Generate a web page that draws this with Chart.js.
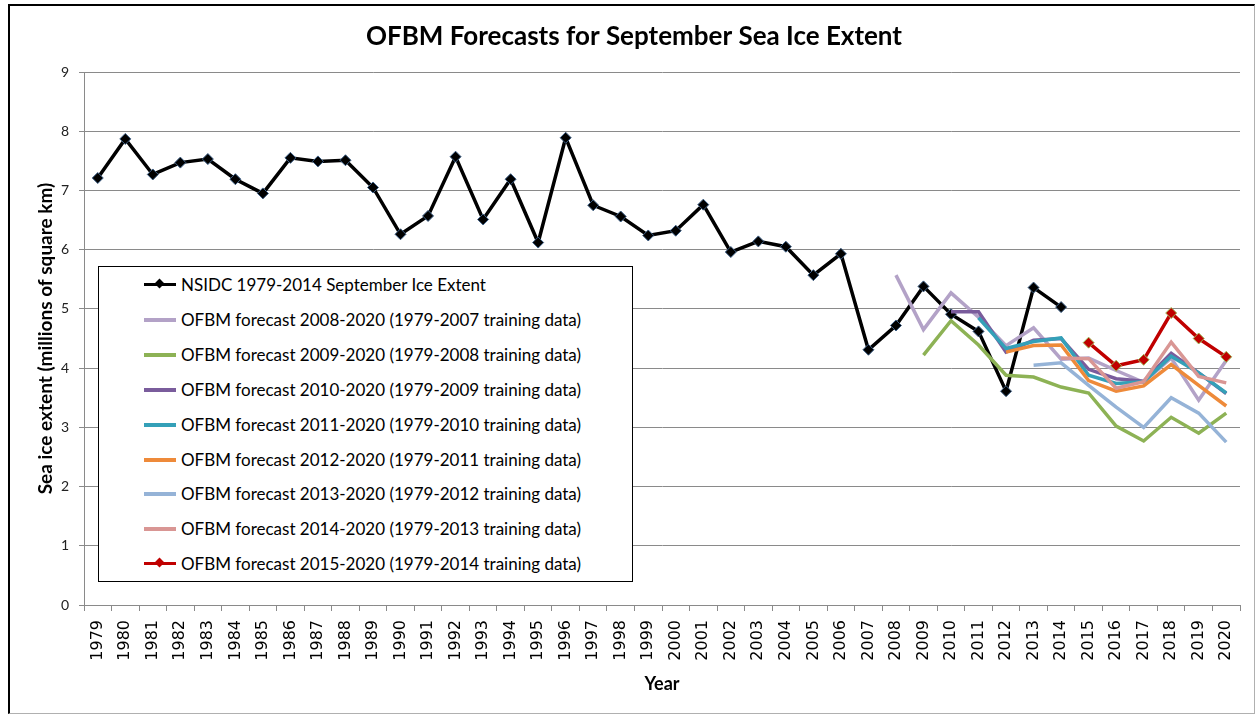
<!DOCTYPE html>
<html>
<head>
<meta charset="utf-8">
<script src="https://cdn.jsdelivr.net/npm/chart.js@4"></script>
<style>
  body { margin: 0; background: #fff; }
  #wrap { position: relative; width: 1257px; height: 717px; }
  #frame { position: absolute; left: 8px; top: 4px; width: 1244px; height: 707px;
           border-left: 2px solid #000; border-top: 2px solid #000;
           border-right: 1px solid #b0b0b0; border-bottom: 1px solid #b0b0b0; pointer-events: none; }
  #legend { position: absolute; left: 98px; top: 266px; width: 533px; height: 314px;
            border: 1px solid #000; background: #fff; font-family: Lato, sans-serif; font-size: 17px; color: #000; }
  .row { position: absolute; left: 0; height: 35px; width: 100%; }
  .swatch { position: absolute; left: 45px; top: 16px; width: 32px; height: 4px; }
  .dia { position: absolute; left: 12px; top: -3px; width: 7px; height: 7px; transform: rotate(45deg); }
  .lbl { position: absolute; left: 82px; top: 0; line-height: 35px; white-space: nowrap; }
</style>
</head>
<body>
<div id="wrap">
  <canvas id="chart" width="1257" height="717"></canvas>
  <div id="legend"></div>
  <div id="frame"></div>
</div>
<script>
// ===== DADOS =====
const years = ['1979','1980','1981','1982','1983','1984','1985','1986','1987','1988','1989','1990','1991','1992',
  '1993','1994','1995','1996','1997','1998','1999','2000','2001','2002','2003','2004','2005','2006','2007','2008',
  '2009','2010','2011','2012','2013','2014','2015','2016','2017','2018','2019','2020'];

// observado 1979-2014
const nsidc = [7.21, 7.87, 7.27, 7.47, 7.53, 7.19, 6.95, 7.55, 7.49, 7.51, 7.05, 6.26, 6.57, 7.57, 6.51, 7.19,
  6.12, 7.89, 6.75, 6.56, 6.24, 6.32, 6.76, 5.96, 6.14, 6.05, 5.57, 5.93, 4.31, 4.72, 5.38, 4.91, 4.62, 3.61, 5.36, 5.03];

// previsões, cada uma começa no ano indicado
const fc2008 = [5.57, 4.65, 5.27, 4.86, 4.38, 4.68, 4.15, 4.17, 3.96, 3.76, 4.17, 3.46, 4.13];
const fc2009 = [4.22, 4.80, 4.39, 3.88, 3.85, 3.68, 3.58, 3.02, 2.77, 3.17, 2.90, 3.24];
const fc2010 = [4.95, 4.95, 4.27, 4.47, 4.50, 3.98, 3.82, 3.78, 4.25, 3.92, 3.57];
const fc2011 = [4.85, 4.33, 4.45, 4.51, 3.88, 3.74, 3.77, 4.20, 3.92, 3.58];
const fc2012 = [4.27, 4.38, 4.39, 3.79, 3.61, 3.70, 4.06, 3.71, 3.36];
const fc2013 = [4.05, 4.09, 3.71, 3.34, 3.00, 3.50, 3.24, 2.75];
const fc2014 = [4.17, 4.16, 3.66, 3.77, 4.44, 3.86, 3.75];
const fc2015 = [4.43, 4.04, 4.14, 4.93, 4.50, 4.19];

const yTicks = [0, 1, 2, 3, 4, 5, 6, 7, 8, 9];

// preenche com null até o ano de início
const pad = (startYear, vals) => {
  const out = years.map(() => null);
  const i0 = years.indexOf(startYear);
  vals.forEach((v, i) => { out[i0 + i] = v; });
  return out;
};

const series = [
  { label: 'NSIDC 1979-2014 September Ice Extent', data: pad('1979', nsidc), color: '#000000', marker: true, edge: '#3d5f86' },
  { label: 'OFBM forecast 2008-2020 (1979-2007 training data)', data: pad('2008', fc2008), color: '#b3a2c7' },
  { label: 'OFBM forecast 2009-2020 (1979-2008 training data)', data: pad('2009', fc2009), color: '#8db255' },
  { label: 'OFBM forecast 2010-2020 (1979-2009 training data)', data: pad('2010', fc2010), color: '#7a5c9c' },
  { label: 'OFBM forecast 2011-2020 (1979-2010 training data)', data: pad('2011', fc2011), color: '#34a0b8' },
  { label: 'OFBM forecast 2012-2020 (1979-2011 training data)', data: pad('2012', fc2012), color: '#ee8a3a' },
  { label: 'OFBM forecast 2013-2020 (1979-2012 training data)', data: pad('2013', fc2013), color: '#95b3d7' },
  { label: 'OFBM forecast 2014-2020 (1979-2013 training data)', data: pad('2014', fc2014), color: '#d99694' },
  { label: 'OFBM forecast 2015-2020 (1979-2014 training data)', data: pad('2015', fc2015), color: '#c00000', marker: true, edge: '#9bbb59' },
];

const GRID = '#8a8a8a';

// ===== GRÁFICO =====
const datasets = series.map((s, i) => ({
  label: s.label,
  data: s.data,
  borderColor: s.color,
  backgroundColor: s.color,
  borderWidth: 3.5,
  pointStyle: 'rectRot',
  pointRadius: s.marker ? 5.5 : 0,
  pointBackgroundColor: s.color,
  pointBorderColor: s.edge || s.color,
  pointBorderWidth: 1,
  tension: 0,
  spanGaps: false,
  order: series.length - i
}));

new Chart(document.getElementById('chart'), {
  type: 'line',
  data: { labels: years, datasets },
  options: {
    responsive: false,
    animation: false,
    layout: { padding: { left: 28, right: 17, top: 0, bottom: 0 } },
    plugins: {
      legend: { display: false },
      tooltip: { enabled: false },
      title: {
        display: true,
        text: 'OFBM Forecasts for September Sea Ice Extent',
        color: '#000',
        font: { family: 'Lato', size: 26, weight: 'bold' },
        padding: { top: 21, bottom: 19.8 }
      }
    },
    scales: {
      x: {
        type: 'category',
        offset: true,
        grid: { offset: true, drawOnChartArea: false, drawTicks: true, tickLength: 6, color: GRID },
        border: { display: true, color: GRID },
        ticks: {
          autoSkip: false, maxRotation: 90, minRotation: 90, padding: 9,
          color: '#000', font: { family: 'DejaVu Sans', size: 16 }
        },
        title: {
          display: true, text: 'Year', color: '#000',
          font: { family: 'Lato', size: 18, weight: 'bold' },
          padding: { top: 0, bottom: 22 }
        },
        afterFit: s => { s.height = 112; }
      },
      y: {
        min: 0, max: 9,
        afterBuildTicks: s => { s.ticks = yTicks.map(v => ({ value: v })); },
        grid: { color: GRID, tickLength: 5 },
        border: { display: true, color: GRID },
        ticks: { padding: 10, color: '#222', font: { family: 'Lato', size: 14 } },
        title: {
          display: true, text: 'Sea ice extent (millions of square km)', color: '#000',
          font: { family: 'Lato', size: 19, weight: 'bold' },
          padding: { top: 6, bottom: 0 }
        },
        afterFit: s => { s.width = 56; }
      }
    }
  }
});

// ===== LEGENDA (dentro da área do gráfico) =====
const legend = document.getElementById('legend');
series.forEach((s, i) => {
  const row = document.createElement('div');
  row.className = 'row';
  row.style.top = (i * 34.9) + 'px';
  row.innerHTML = `
    <div class="swatch" style="background:${s.color};height:${s.marker ? 3 : 4}px">
      ${s.marker ? `<div class="dia" style="background:${s.color}"></div>` : ''}
    </div>
    <span class="lbl">${s.label}</span>`;
  legend.appendChild(row);
});
</script>
</body>
</html>
